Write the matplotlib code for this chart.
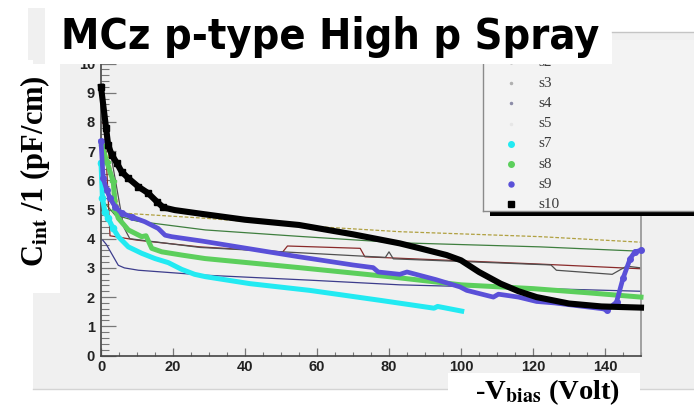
import matplotlib
matplotlib.use("Agg")
import matplotlib.pyplot as plt
from matplotlib.patches import Rectangle
from matplotlib.lines import Line2D
from matplotlib.ticker import MultipleLocator

# ---------------- data ----------------
# thin lines
s2_x = [0.5, 1.5, 4.8, 6.5, 10.4, 29, 58, 83, 120, 150]
s2_y = [3.95, 3.8, 3.09, 3.0, 2.92, 2.75, 2.58, 2.42, 2.3, 2.2]

s3_x = [0.8, 2, 5, 6.7, 29, 55, 83, 122, 150]
s3_y = [7.0, 6.9, 4.95, 4.87, 4.7, 4.45, 4.24, 4.07, 3.88]

s4_x = [0, 1.2, 6.3, 8, 27.5, 50.5, 73, 79, 80, 81.2, 100, 125, 126.5, 142, 146, 150]
s4_y = [8.0, 7.95, 4.4, 4.0, 3.7, 3.55, 3.4, 3.36, 3.55, 3.31, 3.22, 3.1, 2.92, 2.78, 3.06, 3.0]

s5_x = [0.5, 3.9, 10, 29, 55, 83, 122, 150]
s5_y = [5.3, 4.81, 4.6, 4.3, 4.08, 3.86, 3.72, 3.57]

s6_x = [0, 1, 2.5, 10, 27.5, 50.5, 51.8, 72, 73.3, 83, 122, 150]
s6_y = [8.0, 7.9, 4.1, 3.95, 3.72, 3.55, 3.75, 3.67, 3.38, 3.33, 3.13, 2.97]

# thick series
s7_x = [0, 0.4, 1.1, 2, 3.4, 4.8, 7.6, 11.3, 15, 18.7, 22.4, 26, 29, 41.4, 58, 77.5, 92.5, 93.5, 100.2]
s7_y = [6.59, 5.38, 4.92, 4.7, 4.35, 4.07, 3.72, 3.5, 3.32, 3.18, 2.95, 2.78, 2.7, 2.46, 2.23, 1.89, 1.62, 1.68, 1.52]

s8_x = [0.2, 1.6, 3.4, 4.0, 4.8, 7.6, 11.3, 12.5, 14.1, 16.9, 22.4, 28.9, 55, 80, 100, 120, 135, 150]
s8_y = [7.22, 6.64, 5.96, 5.0, 4.7, 4.3, 4.07, 4.1, 3.67, 3.55, 3.44, 3.32, 3.01, 2.7, 2.42, 2.29, 2.15, 2.0]

s9_x = [0, 0.6, 1.6, 2.5, 3.9, 5.7, 8.5, 12.2, 15.9, 17.8, 19.6, 28, 40, 55, 70, 75.6, 77, 83, 85,
        93, 99.7, 101.6, 109, 110.4, 116, 121, 126, 134, 139.4, 140.5, 143.2, 145, 147, 148.3, 150]
s9_y = [7.33, 6.07, 5.67, 5.38, 5.1, 4.87, 4.75, 4.58, 4.35, 4.12, 4.07, 3.92, 3.68, 3.38, 3.1, 3.01, 2.86, 2.78, 2.86,
        2.6, 2.35, 2.23, 2.0, 2.1, 2.0, 1.85, 1.8, 1.68, 1.6, 1.55, 1.83, 2.64, 3.32, 3.55, 3.6]

s10_x = [0, 1.4, 2, 3, 4.4, 5.7, 7.6, 10.4, 13.1, 15.5, 17.3, 20.5, 28, 40, 55, 70, 83, 88.6, 96, 100,
         105, 111, 116, 121, 130, 139, 150]
s10_y = [9.2, 7.8, 7.2, 6.87, 6.59, 6.3, 6.07, 5.78, 5.56, 5.27, 5.07, 4.98, 4.85, 4.65, 4.47, 4.15, 3.84, 3.67, 3.44, 3.26,
         2.86, 2.46, 2.2, 2.0, 1.78, 1.68, 1.64]

legend_labels = ["s2", "s3", "s4", "s5", "s7", "s8", "s9", "s10"]
x_ticks = [0, 20, 40, 60, 80, 100, 120, 140]
y_ticks = [0, 1, 2, 3, 4, 5, 6, 7, 8, 9, 10]

title_text = "MCz p-type High p Spray"
ylabel_text = r"C$_{\mathbf{int}}$ /1 (pF/cm)"
xlabel_text = r"-V$_{\mathbf{bias}}$ (Volt)"

# ---------------- figure ----------------
plt.rcParams["mathtext.fontset"] = "stix"
W, H = 694, 416
fig = plt.figure(figsize=(W / 100, H / 100), dpi=100, facecolor="white")


def px_rect(x0, y0, x1, y1, **kw):
    r = Rectangle((x0 / W, 1 - y1 / H), (x1 - x0) / W, (y1 - y0) / H,
                  transform=fig.transFigure, **kw)
    fig.add_artist(r)
    return r


def px_line(x0, y0, x1, y1, **kw):
    fig.add_artist(Line2D([x0 / W, x1 / W], [1 - y0 / H, 1 - y1 / H],
                          transform=fig.transFigure, **kw))


CANVAS = "#f0f0f0"
# ROOT canvas background
px_rect(33, 32, 694, 389, facecolor=CANVAS, edgecolor="none", zorder=-5)
px_rect(28, 8, 45, 60, facecolor=CANVAS, edgecolor="none", zorder=-5)
px_line(33, 389, 694, 389, color="#d4d4d4", lw=1.0, zorder=-4)
px_line(612, 32, 694, 32, color="#c4c4c4", lw=1.0, zorder=30)

# main axes
ax = fig.add_axes([101 / W, 1 - 355.5 / H, 540 / W, 292 / H])
ax.set_facecolor(CANVAS)
ax.set_xlim(0, 150)
ax.set_ylim(0, 10)

thin = dict(lw=0.9, clip_on=True, zorder=2)
ax.plot(s2_x, s2_y, color="#3c3c8c", **thin)
ax.plot(s3_x, s3_y, color="#b0a040", ls=(0, (3, 1.5)), **thin)
ax.plot(s5_x, s5_y, color="#3f7f3f", **thin)
ax.plot(s6_x, s6_y, color="#8a2a2a", **thin)
ax.plot(s4_x, s4_y, color="#505050", **thin)

ax.plot(s7_x, s7_y, color="#22eaf2", lw=3.6, marker="o", ms=4.5, mec="#22eaf2",
        markevery=list(range(5)), zorder=3, clip_on=False)
ax.plot(s8_x, s8_y, color="#5ccf5c", lw=3.6, marker="P", ms=5, mec="#5ccf5c",
        markevery=list(range(4)), zorder=4, clip_on=False)
ax.plot(s9_x, s9_y, color="#5a50d8", lw=3.4, marker="o", ms=4.0, mec="#5a50d8",
        markevery=list(range(7)) + list(range(len(s9_x) - 6, len(s9_x))),
        zorder=5, clip_on=False)
ax.plot(s10_x, s10_y, color="black", lw=4.4, marker="s", ms=4.8,
        markevery=list(range(11)), zorder=6, clip_on=False)

# axes styling (ROOT-like)
ax.spines["top"].set_visible(False)
ax.spines["right"].set_color("#9a9a9a")
ax.spines["right"].set_linewidth(1.3)
for side in ("left", "bottom"):
    ax.spines[side].set_color("#444444")
    ax.spines[side].set_linewidth(1.2)

ax.set_xticks(x_ticks)
ax.set_yticks(y_ticks)
ax.xaxis.set_minor_locator(MultipleLocator(5))
ax.yaxis.set_minor_locator(MultipleLocator(0.2))
ax.tick_params(axis="x", which="major", direction="in", length=5.8, width=0.9,
               color="#777777", pad=3.4)
ax.tick_params(axis="x", which="minor", direction="in", length=2.9, width=0.8,
               color="#777777")
ax.tick_params(axis="y", which="major", direction="in", length=10.5, width=0.9,
               color="#777777", pad=4.3)
ax.tick_params(axis="y", which="minor", direction="in", length=5.5, width=0.8,
               color="#777777")
ax.tick_params(top=False, right=False, which="both")
for lab in ax.get_xticklabels() + ax.get_yticklabels():
    lab.set_fontfamily("Liberation Sans")
    lab.set_fontweight("bold")
    lab.set_fontsize(10.5)
    lab.set_color("#222222")

# ---------------- legend (ROOT style box with shadow) ----------------
px_rect(490, 211, 694, 216, facecolor="black", edgecolor="none", zorder=7)
lax = fig.add_axes([483 / W, 1 - 211 / H, 220 / W, 171 / H], zorder=8)
lax.set_xlim(483, 703)
lax.set_ylim(211, 40)
lax.set_facecolor("#f3f3f3")
lax.set_xticks([])
lax.set_yticks([])
for side in ("top", "right"):
    lax.spines[side].set_visible(False)
for side in ("left", "bottom"):
    lax.spines[side].set_color("#8a8a8a")
    lax.spines[side].set_linewidth(1.0)

leg_style = [
    dict(marker=".", color="#c8c8c8", ms=2),
    dict(marker=".", color="#b0b0b0", ms=3),
    dict(marker=".", color="#8c8ca8", ms=3),
    dict(marker=".", color="#e6e6e6", ms=3),
    dict(marker="o", color="#22eaf2", ms=4),
    dict(marker="o", color="#5ccf5c", ms=4),
    dict(marker="o", color="#5a50d8", ms=3.6),
    dict(marker="s", color="black", ms=4),
]
for i, (lab, st) in enumerate(zip(legend_labels, leg_style)):
    yy = 63 + 20.2 * i
    lax.plot([511], [yy], ls="none", **st)
    lax.text(538, yy, lab, ha="left", va="center", fontsize=11,
             family="Liberation Serif", color="#3a3a3a")

# ---------------- pasted label boxes ----------------
# title
px_rect(45, 3, 612, 64, facecolor="white", edgecolor="none", zorder=20)
fig.text(330 / W, 1 - 49 / H, title_text, ha="center", va="baseline",
         fontsize=31, fontweight="bold", family="DejaVu Sans",
         fontstretch="condensed", color="black", zorder=21)

# y label
px_rect(0, 64, 60, 293, facecolor="white", edgecolor="none", zorder=20)
fig.text(35 / W, 1 - 171 / H, ylabel_text, rotation=90, ha="center",
         va="center", fontsize=22, fontweight="bold",
         family="Liberation Serif", color="black", zorder=21)

# x label
px_rect(448, 373, 640, 416, facecolor="white", edgecolor="none", zorder=20)
fig.text(548 / W, 1 - 399 / H, xlabel_text, ha="center", va="baseline",
         fontsize=20.5, fontweight="bold", family="Liberation Serif",
         color="black", zorder=21)

fig.savefig("out.png", dpi=100, facecolor="white")
